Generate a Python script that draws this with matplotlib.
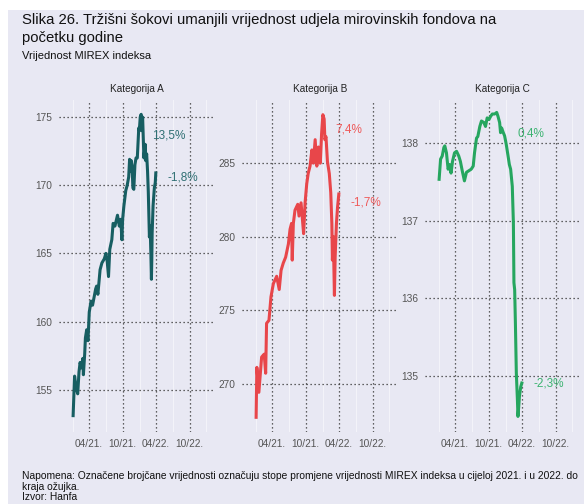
import pandas as pd
import matplotlib
matplotlib.use('Agg')
import matplotlib.pyplot as plt
import matplotlib.dates as mdates
from matplotlib.patches import Rectangle

plt.rcParams['font.family'] = ['Liberation Sans', 'DejaVu Sans']

# Kategorija A
dates_a = ['2021-01-04', '2021-01-12', '2021-01-20', '2021-01-29', '2021-02-05', '2021-02-11',
           '2021-02-18', '2021-02-26', '2021-03-01', '2021-03-08', '2021-03-12', '2021-03-19',
           '2021-03-26', '2021-04-02', '2021-04-12', '2021-04-20', '2021-04-30', '2021-05-07',
           '2021-05-12', '2021-05-19', '2021-05-31', '2021-06-10', '2021-06-23', '2021-07-02',
           '2021-07-09', '2021-07-16', '2021-07-23', '2021-08-03', '2021-08-10', '2021-08-20',
           '2021-09-03', '2021-09-13', '2021-09-21', '2021-09-27', '2021-10-01', '2021-10-08',
           '2021-10-18', '2021-10-26', '2021-11-03', '2021-11-08', '2021-11-12', '2021-11-17',
           '2021-11-22', '2021-11-26', '2021-12-01', '2021-12-07', '2021-12-13', '2021-12-20',
           '2021-12-28', '2021-12-31', '2022-01-05', '2022-01-10', '2022-01-14', '2022-01-18',
           '2022-01-25', '2022-02-01', '2022-02-04', '2022-02-09', '2022-02-14', '2022-02-18',
           '2022-02-24', '2022-02-28', '2022-03-04', '2022-03-07', '2022-03-09', '2022-03-11',
           '2022-03-16', '2022-03-23', '2022-03-28', '2022-03-31']
values_a = [153.1, 156.0, 155.2, 154.7, 156.3, 157.0,
            156.6, 157.3, 156.1, 157.6, 158.8, 159.4,
            158.6, 160.7, 161.5, 161.2, 161.9, 162.4,
            162.6, 162.0, 163.8, 164.3, 164.6, 165.0,
            164.4, 163.3, 165.3, 166.0, 167.2, 167.0,
            167.8, 167.0, 167.5, 166.0, 167.5, 168.5,
            169.6, 170.0, 170.6, 171.9, 171.0, 171.8,
            171.2, 169.8, 169.7, 171.5, 172.0, 172.0,
            174.2, 174.0, 175.0, 175.2, 174.0, 175.0,
            172.0, 173.0, 171.8, 172.3, 171.0, 169.5,
            166.2, 167.0, 165.0, 163.1, 164.5, 166.5,
            168.5, 169.8, 170.2, 170.9]

# Kategorija B
dates_b = ['2021-01-04', '2021-01-08', '2021-01-19', '2021-02-03', '2021-02-17', '2021-02-25',
           '2021-03-02', '2021-03-15', '2021-03-26', '2021-04-08', '2021-04-26', '2021-05-10',
           '2021-05-20', '2021-06-01', '2021-06-14', '2021-06-29', '2021-07-08', '2021-07-16',
           '2021-07-20', '2021-07-26', '2021-08-04', '2021-08-19', '2021-08-26', '2021-09-06',
           '2021-09-14', '2021-09-20', '2021-09-28', '2021-10-07', '2021-10-15', '2021-10-25',
           '2021-11-04', '2021-11-12', '2021-11-22', '2021-12-01', '2021-12-10', '2021-12-20',
           '2021-12-27', '2022-01-03', '2022-01-10', '2022-01-14', '2022-01-20', '2022-01-28',
           '2022-02-07', '2022-02-15', '2022-02-21', '2022-02-24', '2022-03-01', '2022-03-07',
           '2022-03-11', '2022-03-18', '2022-03-24', '2022-03-31']
values_b = [267.7, 271.1, 269.4, 271.8, 272.0, 270.7,
            274.1, 274.3, 275.9, 276.8, 277.3, 276.4,
            277.7, 278.2, 278.6, 279.5, 280.5, 280.9,
            278.4, 280.9, 281.8, 282.2, 281.4, 282.3,
            281.1, 280.2, 282.3, 283.6, 284.3, 284.8,
            285.9, 285.0, 286.6, 284.8, 286.1, 285.0,
            287.0, 288.3, 288.0, 286.6, 286.8, 285.1,
            284.3, 283.0, 280.9, 278.4, 280.0, 276.0,
            278.6, 280.9, 282.0, 282.9]

# Kategorija C
dates_c = ['2021-01-04', '2021-01-12', '2021-01-21', '2021-01-30', '2021-02-04', '2021-02-13',
           '2021-02-22', '2021-03-02', '2021-03-10', '2021-03-18', '2021-03-29', '2021-04-09',
           '2021-04-21', '2021-04-30', '2021-05-10', '2021-05-22', '2021-06-02', '2021-06-15',
           '2021-06-28', '2021-07-09', '2021-07-16', '2021-07-27', '2021-08-03', '2021-08-14',
           '2021-08-23', '2021-09-05', '2021-09-14', '2021-09-23', '2021-10-03', '2021-10-12',
           '2021-10-21', '2021-11-03', '2021-11-14', '2021-11-21', '2021-11-30', '2021-12-05',
           '2021-12-11', '2021-12-20', '2021-12-27', '2022-01-05', '2022-01-15', '2022-01-22',
           '2022-01-29', '2022-02-07', '2022-02-13', '2022-02-16', '2022-02-20', '2022-02-24',
           '2022-03-01', '2022-03-07', '2022-03-10', '2022-03-14', '2022-03-18', '2022-03-25',
           '2022-03-31']
values_c = [137.53, 137.79, 137.83, 137.94, 137.96, 137.87,
            137.66, 137.72, 137.61, 137.76, 137.87, 137.89,
            137.83, 137.76, 137.64, 137.51, 137.62, 137.64,
            137.66, 137.70, 137.87, 138.06, 138.08, 138.21,
            138.28, 138.26, 138.21, 138.32, 138.30, 138.34,
            138.37, 138.37, 138.39, 138.34, 138.26, 138.13,
            138.19, 138.13, 138.09, 137.98, 137.83, 137.72,
            137.66, 137.44, 136.97, 136.20, 136.11, 135.68,
            135.04, 134.69, 134.48, 134.60, 134.74, 134.86,
            134.91]

titles = ['Kategorija A', 'Kategorija B', 'Kategorija C']
colors = ['#175e62', '#e8464a', '#26a65f']
text_colors = ['#2f6f73', '#ee5a5a', '#3cb371']
yticks = [[155, 160, 165, 170, 175], [270, 275, 280, 285], [135, 136, 137, 138]]
ylims = [(151.9, 176.25), (266.7, 289.3), (134.28, 138.55)]
labels_up = ['13,5%', '7,4%', '0,4%']
labels_down = ['-1,8%', '-1,7%', '-2,3%']
label_up_y = [173.65, 287.3, 138.12]
label_down_y = [170.6, 282.3, 134.9]

bg = '#e8e8f3'
fig = plt.figure(figsize=(5.84, 5.04), dpi=100, facecolor='white')
fig.patches.append(Rectangle((8 / 584, 0), 1, 1 - 10 / 504, transform=fig.transFigure,
                             facecolor=bg, edgecolor='none', zorder=-10))

fig.text(22 / 584, 1 - 20 / 504, 'Slika 26. Tržišni šokovi umanjili vrijednost udjela mirovinskih fondova na',
         fontsize=10.7, va='center', ha='left', color='#111111')
fig.text(22 / 584, 1 - 38 / 504, 'početku godine', fontsize=10.7, va='center', ha='left', color='#111111')
fig.text(22 / 584, 1 - 56 / 504, 'Vrijednost MIREX indeksa', fontsize=8, va='center', ha='left', color='#111111')

note = ('Napomena: Označene brojčane vrijednosti označuju stope promjene vrijednosti MIREX indeksa u cijeloj 2021. i u 2022. do\n'
        'kraja ožujka.\nIzvor: Hanfa')
fig.text(22 / 584, 1 - 471 / 504, note, fontsize=7.4, va='top', ha='left', color='#111111', linespacing=1.08)

all_dates = [dates_a, dates_b, dates_c]
all_values = [values_a, values_b, values_c]
lefts = [59 / 584, 242 / 584, 425 / 584]
bottom = 1 - 432 / 504
height = (432 - 100) / 504
width = 155.5 / 584

for i in range(3):
    ax = fig.add_axes([lefts[i], bottom, width, height])
    ax.set_facecolor(bg)
    s = pd.Series(all_values[i], index=pd.to_datetime(all_dates[i]))
    ax.plot(s.index, s.values, color=colors[i], linewidth=2.2, solid_joinstyle='round', zorder=3)
    ax.set_xlim(pd.Timestamp('2020-10-19'), pd.Timestamp('2023-02-14'))
    ax.set_ylim(*ylims[i])
    ax.set_yticks(yticks[i])
    ax.xaxis.set_major_locator(mdates.MonthLocator(bymonth=[4, 10]))
    ax.xaxis.set_major_formatter(mdates.DateFormatter('%m/%y.'))
    ax.xaxis.set_minor_locator(mdates.MonthLocator(bymonth=[1, 7]))
    ax.grid(which='major', color='#333333', linestyle=(0, (1, 2.2)), linewidth=0.9)
    ax.grid(which='minor', axis='x', color='white', linestyle='-', linewidth=0.8, alpha=0.5)
    ax.set_axisbelow(True)
    for sp in ax.spines.values():
        sp.set_visible(False)
    ax.tick_params(which='both', length=0, labelsize=7.3, colors='#555555', pad=5)
    ax.set_title(titles[i], fontsize=7.2, color='#222222', pad=6)
    ax.text(pd.Timestamp('2022-03-10'), label_up_y[i], labels_up[i], color=text_colors[i],
            fontsize=8.5, ha='left', va='center', zorder=4)
    ax.text(pd.Timestamp('2022-05-31'), label_down_y[i], labels_down[i], color=text_colors[i],
            fontsize=8.5, ha='left', va='center', zorder=4)

fig.savefig('out.png', dpi=100, facecolor=fig.get_facecolor())
